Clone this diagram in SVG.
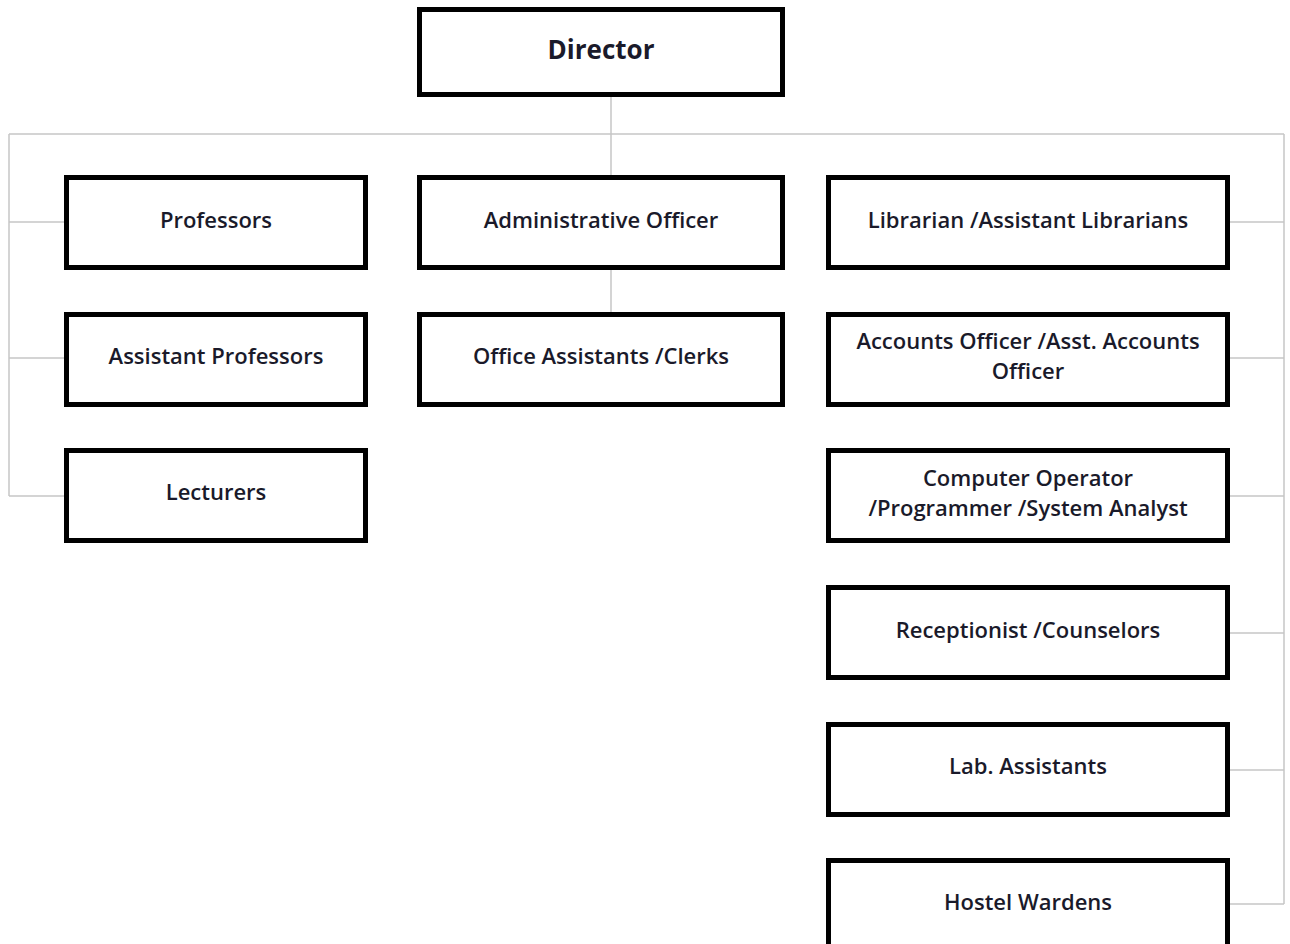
<svg xmlns="http://www.w3.org/2000/svg" width="1290" height="944" viewBox="0 0 1290 944">
<style>
.box{fill:#fff;stroke:#000;stroke-width:5}
.conn{fill:none;stroke:#c6c6c6;stroke-width:1.5}
text{font-family:"Open Sans","Noto Sans","DejaVu Sans",sans-serif;font-size:22px;font-weight:600;fill:#1a1a2a;text-anchor:middle}
.b{font-weight:bold;font-size:26px}
</style>
<rect width="1290" height="944" fill="#fff"/>
<g id="connectors">
<path class="conn" d="M611,97 V175 M611,270 V312"/>
<path class="conn" d="M9,134 H1284"/>
<path class="conn" d="M9,134 V496 M9,222 H64 M9,358 H64 M9,496 H64"/>
<path class="conn" d="M1284,134 V904 M1230,222 H1284 M1230,358 H1284 M1230,496 H1284 M1230,633 H1284 M1230,770 H1284 M1230,904 H1284"/>
</g>
<g id="director"><rect class="box" x="419.5" y="9.5" width="363" height="85"/><text class="b" x="601" y="59">Director</text></g>
<g id="professors"><rect class="box" x="66.5" y="177.5" width="299" height="90"/><text x="216" y="228">Professors</text></g>
<g id="assistant-professors"><rect class="box" x="66.5" y="314.5" width="299" height="90"/><text x="216" y="364">Assistant Professors</text></g>
<g id="lecturers"><rect class="box" x="66.5" y="450.5" width="299" height="90"/><text x="216" y="500">Lecturers</text></g>
<g id="administrative-officer"><rect class="box" x="419.5" y="177.5" width="363" height="90"/><text x="601" y="228">Administrative Officer</text></g>
<g id="office-assistants"><rect class="box" x="419.5" y="314.5" width="363" height="90"/><text x="601" y="364">Office Assistants /Clerks</text></g>
<g id="librarian"><rect class="box" x="828.5" y="177.5" width="399" height="90"/><text x="1028" y="228">Librarian /Assistant Librarians</text></g>
<g id="accounts-officer"><rect class="box" x="828.5" y="314.5" width="399" height="90"/><text x="1028" y="349">Accounts Officer /Asst. Accounts</text><text x="1028" y="379">Officer</text></g>
<g id="computer-operator"><rect class="box" x="828.5" y="450.5" width="399" height="90"/><text x="1028" y="486">Computer Operator</text><text x="1028" y="516">/Programmer /System Analyst</text></g>
<g id="receptionist"><rect class="box" x="828.5" y="587.5" width="399" height="90"/><text x="1028" y="638">Receptionist /Counselors</text></g>
<g id="lab-assistants"><rect class="box" x="828.5" y="724.5" width="399" height="90"/><text x="1028" y="774">Lab. Assistants</text></g>
<g id="hostel-wardens"><rect class="box" x="828.5" y="860.5" width="399" height="90"/><text x="1028" y="910">Hostel Wardens</text></g>
</svg>
